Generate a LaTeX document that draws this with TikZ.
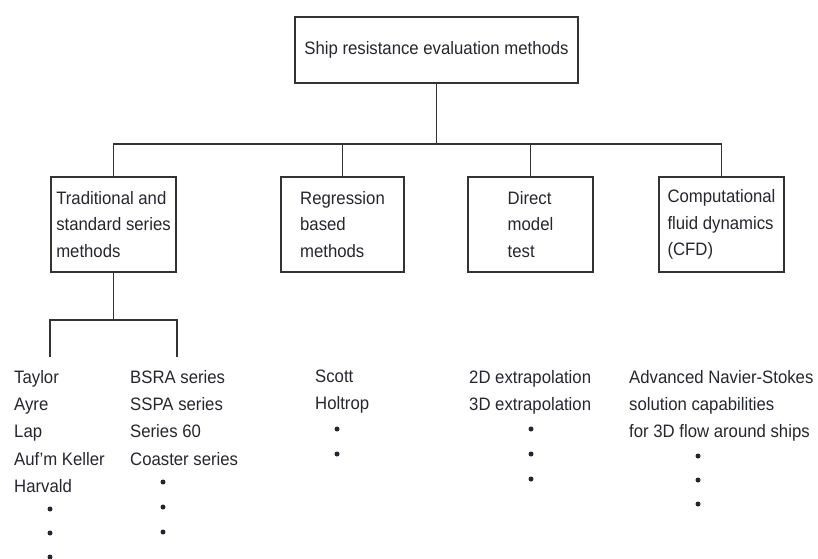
\documentclass[tikz,border=0pt]{standalone}
\usepackage{fontspec}
\setmainfont[FakeStretch=0.93]{Liberation Sans}
\definecolor{ink}{HTML}{333333}
\definecolor{txt}{HTML}{26262E}
\begin{document}
\begin{tikzpicture}[x=1pt,y=-1pt,
  every node/.style={text=txt},
  boxfont/.style={font=\fontsize{18}{26.6}\selectfont},
  box/.style={boxfont, draw=ink, line width=1.5pt, minimum width=125pt,
    minimum height=95pt, align=left, inner sep=0pt},
  wire/.style={draw=ink, line width=1.4pt},
  leaflist/.style={font=\fontsize{18}{27.4}\selectfont, anchor=north west,
    align=left, inner sep=0pt},
  dot/.style={fill=txt},
]
\fill[white] (0,0) rectangle (818,558);
\useasboundingbox (0,0) rectangle (818,558);

% root
\node[box, minimum width=283pt, minimum height=66pt, align=center] (root) at (436.5,50)
  {Ship resistance evaluation methods};

% method classes
\node[box] (trad) at (113.5,224.5) {Traditional and\\standard series\\methods};
\node[box, minimum width=123pt] (reg) at (342.5,224.5) {Regression\\based\\methods};
\node[box] (dmt) at (530.5,224.5) {Direct\\model\\test};
\node[box] (cfd) at (721.5,224.5) {Computational\\fluid dynamics\\(CFD)};

% bus from root to classes
\coordinate (bus) at (436.5,144);
\draw[wire] (root.south) -- (bus);
\draw[wire] (trad.north) |- (bus) -| (cfd.north);
\draw[wire] (reg.north) -- (reg.north |- bus);
\draw[wire] (dmt.north) -- (dmt.north |- bus);

% split under the traditional methods
\coordinate (split) at (113.5,320);
\coordinate (leafA) at (50,357);
\coordinate (leafB) at (177,357);
\draw[wire] (trad.south) -- (split);
\draw[wire] (leafA) |- (split) -| (leafB);

% example lists
\node[leaflist] (empirical) at (14,369.8) {Taylor\\Ayre\\Lap\\Auf’m Keller\\Harvald};
\node[leaflist] (series) at (130,369.8) {BSRA series\\SSPA series\\Series 60\\Coaster series};
\node[leaflist] (regr) at (315,369.8) {Scott\\Holtrop};
\node[leaflist] (extrap) at (469,369.8) {2D extrapolation\\3D extrapolation};
\node[leaflist] (ns) at (629,369.8) {Advanced Navier-Stokes\\solution capabilities\\for 3D flow around ships};

% continuation dots
\foreach \y in {509,533,557} \fill[dot] (50,\y) circle (2.5);
\foreach \y in {482,507,532} \fill[dot] (163,\y) circle (2.5);
\foreach \y in {429,454} \fill[dot] (337,\y) circle (2.5);
\foreach \y in {429,454,479} \fill[dot] (531,\y) circle (2.5);
\foreach \y in {456,480,504} \fill[dot] (698,\y) circle (2.5);
\end{tikzpicture}
\end{document}
